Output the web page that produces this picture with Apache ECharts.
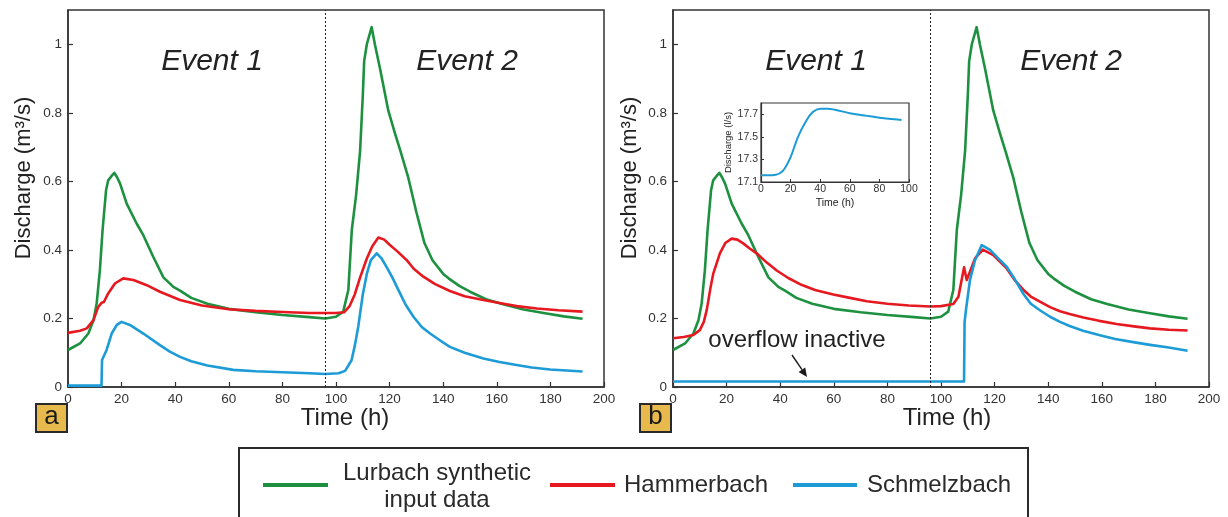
<!DOCTYPE html>
<html>
<head>
<meta charset="utf-8">
<script src="https://cdn.jsdelivr.net/npm/echarts@6/dist/echarts.min.js"></script>
<style>
  html, body { margin: 0; padding: 0; background: #fff; }
  #chart { width: 1228px; height: 517px; }
</style>
</head>
<body>
<div id="chart"></div>
<script>
// Time axis ticks (h) and discharge ticks (m³/s)
const timeTicks = [0, 20, 40, 60, 80, 100, 120, 140, 160, 180, 200];
const dischargeTicks = [0, 0.2, 0.4, 0.6, 0.8, 1];
const eventBoundary = 96;

// Lurbach synthetic input data (same in both panels)
const lurbachT = [0, 4.5, 7.6, 9.5, 10.7, 11.9, 12.9, 14.2, 15, 16.2, 17.3, 18.3, 19.4, 21.9, 25.6, 28.1, 31.8, 35.6, 39.3, 41.8, 46, 52, 60, 70, 80, 90, 96, 100, 102.7, 104.6, 105.9, 107.5, 109, 110, 110.5, 111.5, 113.3, 114.5, 116.4, 119.5, 122, 124, 127, 130, 133, 136, 140, 142, 146, 150, 156, 162, 170, 178, 185, 192];
const lurbachQ = [0.108, 0.127, 0.156, 0.195, 0.244, 0.341, 0.458, 0.574, 0.603, 0.615, 0.625, 0.612, 0.594, 0.535, 0.477, 0.443, 0.38, 0.32, 0.292, 0.281, 0.26, 0.243, 0.228, 0.218, 0.21, 0.204, 0.2, 0.205, 0.22, 0.283, 0.458, 0.56, 0.69, 0.85, 0.95, 1.0, 1.05, 1.0, 0.93, 0.807, 0.74, 0.69, 0.61, 0.51, 0.42, 0.37, 0.33, 0.317, 0.295, 0.278, 0.256, 0.242, 0.226, 0.215, 0.206, 0.199];

// Panel a: Hammerbach
const hammerAT = [0, 4.5, 7, 9.5, 11.3, 12.6, 13.4, 15, 17.5, 20.6, 24.4, 29.4, 34.3, 41.8, 50, 60, 70, 80, 90, 100, 103, 105, 107, 109, 111.5, 113.5, 115.8, 118, 120, 123, 126.4, 129, 132.6, 137, 142.5, 148, 155, 161, 167.4, 175, 183, 192];
const hammerAQ = [0.158, 0.164, 0.171, 0.195, 0.234, 0.246, 0.248, 0.273, 0.302, 0.317, 0.312, 0.297, 0.278, 0.254, 0.238, 0.227, 0.222, 0.219, 0.216, 0.216, 0.218, 0.235, 0.27, 0.32, 0.375, 0.41, 0.436, 0.43, 0.415, 0.395, 0.37, 0.345, 0.322, 0.3, 0.28, 0.265, 0.254, 0.245, 0.236, 0.229, 0.224, 0.22];

// Panel a: Schmelzbach
const schmelzAT = [0, 12.5, 12.7, 14.4, 16.3, 18.2, 20, 23.1, 28.1, 34.3, 38, 41.8, 46, 52, 61.7, 70, 80, 90, 96, 101, 103.4, 105.8, 107, 108.3, 110, 111.5, 113, 115.2, 117, 118.9, 121, 123.9, 126, 128.9, 132, 135.1, 139, 142.5, 148, 155, 161, 167.4, 173, 179.9, 186, 192];
const schmelzAQ = [0.004, 0.004, 0.079, 0.108, 0.156, 0.181, 0.19, 0.181, 0.156, 0.122, 0.103, 0.088, 0.075, 0.063, 0.05, 0.046, 0.043, 0.04, 0.038, 0.04, 0.047, 0.078, 0.12, 0.176, 0.27, 0.33, 0.37, 0.39, 0.375, 0.35, 0.32, 0.273, 0.24, 0.205, 0.175, 0.156, 0.135, 0.117, 0.1, 0.083, 0.073, 0.064, 0.057, 0.051, 0.048, 0.045];

// Panel b: Hammerbach
const hammerBT = [0, 4, 7.6, 10, 11.5, 12.6, 14, 15, 17.5, 19.5, 21.9, 24, 26.2, 28.5, 31.2, 35, 38.7, 43, 47.4, 53, 59.8, 66, 72.3, 80, 88, 96, 100, 104.6, 106.5, 107.7, 108.6, 109.6, 110.8, 112.7, 115.6, 119.5, 124.5, 127.5, 130.7, 133.5, 136.9, 140.7, 144.4, 148, 153.1, 159, 165.5, 172, 178, 185, 192];
const hammerBQ = [0.142, 0.146, 0.152, 0.166, 0.19, 0.225, 0.29, 0.33, 0.39, 0.42, 0.433, 0.43, 0.419, 0.405, 0.39, 0.363, 0.34, 0.318, 0.3, 0.283, 0.27, 0.26, 0.25, 0.243, 0.238, 0.235, 0.236, 0.242, 0.263, 0.312, 0.349, 0.312, 0.336, 0.375, 0.401, 0.385, 0.346, 0.312, 0.284, 0.264, 0.249, 0.233, 0.221, 0.213, 0.203, 0.193, 0.184, 0.177, 0.171, 0.167, 0.165];

// Panel b: Schmelzbach
const schmelzBT = [0, 108.6, 108.8, 109.3, 110.8, 112.7, 115.2, 118.3, 121, 124.5, 127.5, 130.7, 133.5, 136.9, 140.7, 144.4, 148, 153, 159.3, 165, 171.7, 178, 185, 192];
const schmelzBQ = [0.016, 0.016, 0.19, 0.224, 0.312, 0.37, 0.414, 0.4, 0.378, 0.351, 0.315, 0.272, 0.243, 0.224, 0.205, 0.19, 0.178, 0.164, 0.151, 0.14, 0.131, 0.123, 0.115, 0.106];

// Inset: Schmelzbach discharge in l/s during event 1
const insetT = [0, 5, 10, 13, 16, 20, 25, 30, 35, 40, 45, 50, 60, 70, 80, 90, 95];
const insetQ = [17.16, 17.16, 17.165, 17.18, 17.22, 17.32, 17.5, 17.63, 17.72, 17.75, 17.75, 17.74, 17.71, 17.69, 17.67, 17.655, 17.65];
const insetTimeTicks = [0, 20, 40, 60, 80, 100];
const insetQTicks = [17.1, 17.3, 17.5, 17.7];

const legendNames = ['Lurbach synthetic\ninput data', 'Hammerbach', 'Schmelzbach'];
const GREEN = '#1d9140', RED = '#e5191f', BLUE = '#1c9bd7';
const FONT = 'Liberation Sans, Arial, Helvetica, sans-serif';

const zip = (t, q) => t.map((v, i) => [v, q[i]]);

function mainX(grid) {
  return {
    type: 'value', gridIndex: grid, min: timeTicks[0], max: timeTicks[timeTicks.length - 1], interval: 20,
    axisLine: { show: true, onZero: false, lineStyle: { color: '#333', width: 1.5 } },
    axisTick: { show: true, inside: true, length: 5, lineStyle: { color: '#333', width: 1.2 } },
    axisLabel: { show: true, color: '#333', fontSize: 13.5, fontFamily: FONT, margin: 5 },
    splitLine: { show: false }
  };
}
function mainY(grid) {
  return {
    type: 'value', gridIndex: grid, min: 0, max: 1.1, interval: 0.2,
    axisLine: { show: true, onZero: false, lineStyle: { color: '#333', width: 1.5 } },
    axisTick: { show: true, inside: true, length: 5, lineStyle: { color: '#333', width: 1.2 } },
    axisLabel: {
      show: true, color: '#333', fontSize: 13.5, fontFamily: FONT, margin: 6, showMaxLabel: false,
      formatter: v => dischargeTicks.some(d => Math.abs(d - v) < 1e-6) ? String(+v.toFixed(1)) : ''
    },
    splitLine: { show: false }
  };
}
function line(name, data, color, xi, extra) {
  return Object.assign({
    name: name, type: 'line', xAxisIndex: xi, yAxisIndex: xi, data: data,
    showSymbol: false, symbol: 'none', smooth: false,
    lineStyle: { color: color, width: 2.6, join: 'round' }, itemStyle: { color: color },
    animation: false, z: 3
  }, extra || {});
}
const boundaryLine = {
  silent: true, symbol: 'none', label: { show: false },
  lineStyle: { color: '#222', type: [2, 2], width: 1 },
  data: [{ xAxis: eventBoundary }]
};

function text(x, y, str, size, opts) {
  return {
    type: 'text', x: x, y: y, rotation: (opts && opts.rotation) || 0, z: 10,
    style: Object.assign({
      text: str, fill: '#222', font: size + 'px ' + FONT,
      textAlign: 'center', textVerticalAlign: 'middle'
    }, (opts && opts.style) || {})
  };
}
function panelTag(x, letter) {
  return [
    { type: 'rect', shape: { x: x, y: 404, width: 31, height: 28 }, z: 10,
      style: { fill: '#e8b94c', stroke: '#2a2a2a', lineWidth: 2 } },
    text(x + 15.5, 417, letter, 26, { style: { fill: '#1a1a1a' } })
  ];
}

const chart = echarts.init(document.getElementById('chart'), null, { renderer: 'canvas' });
chart.setOption({
  backgroundColor: '#fff',
  animation: false,
  grid: [
    { left: 68, top: 10, width: 536, height: 377, show: true, borderColor: '#333', borderWidth: 1.5, backgroundColor: 'transparent' },
    { left: 673, top: 10, width: 536, height: 377, show: true, borderColor: '#333', borderWidth: 1.5, backgroundColor: 'transparent' },
    { left: 761, top: 103, width: 148, height: 79, show: true, borderColor: '#333', borderWidth: 1.2, backgroundColor: '#fff', z: 5 }
  ],
  xAxis: [
    mainX(0), mainX(1),
    {
      type: 'value', gridIndex: 2, min: insetTimeTicks[0], max: insetTimeTicks[insetTimeTicks.length - 1], interval: 20,
      name: 'Time (h)', nameLocation: 'middle', nameGap: 16,
      nameTextStyle: { fontSize: 10.5, fontFamily: FONT, color: '#222' },
      axisLine: { show: true, onZero: false, lineStyle: { color: '#333', width: 1.2 } },
      axisTick: { show: true, inside: true, length: 3, lineStyle: { color: '#333' } },
      axisLabel: { color: '#333', fontSize: 10.5, fontFamily: FONT, margin: 2 },
      splitLine: { show: false }, z: 6
    }
  ],
  yAxis: [
    mainY(0), mainY(1),
    {
      type: 'value', gridIndex: 2, min: insetQTicks[0], max: 17.8, interval: 0.2,
      name: 'Discharge (l/s)', nameLocation: 'middle', nameGap: 25,
      nameTextStyle: { fontSize: 9.5, fontFamily: FONT, color: '#222' },
      axisLine: { show: true, onZero: false, lineStyle: { color: '#333', width: 1.2 } },
      axisTick: { show: true, inside: true, length: 3, lineStyle: { color: '#333' } },
      axisLabel: {
        color: '#333', fontSize: 10.5, fontFamily: FONT, margin: 3, showMaxLabel: false,
        formatter: v => insetQTicks.some(d => Math.abs(d - v) < 1e-6) ? v.toFixed(1) : ''
      },
      splitLine: { show: false }, z: 6
    }
  ],
  series: [
    line(legendNames[0], zip(lurbachT, lurbachQ), GREEN, 0, { markLine: boundaryLine }),
    line(legendNames[1], zip(hammerAT, hammerAQ), RED, 0),
    line(legendNames[2], zip(schmelzAT, schmelzAQ), BLUE, 0),
    line(legendNames[0], zip(lurbachT, lurbachQ), GREEN, 1, { markLine: boundaryLine }),
    line(legendNames[1], zip(hammerBT, hammerBQ), RED, 1),
    line(legendNames[2], zip(schmelzBT, schmelzBQ), BLUE, 1),
    line('Schmelzbach (l/s)', zip(insetT, insetQ), BLUE, 2, { smooth: 0.4, z: 8, lineStyle: { color: BLUE, width: 2 } })
  ],
  graphic: [
    // axis titles
    text(24, 178, 'Discharge (m³/s)', 22, { rotation: Math.PI / 2 }),
    text(630, 178, 'Discharge (m³/s)', 22, { rotation: Math.PI / 2 }),
    text(345, 418, 'Time (h)', 24),
    text(947, 418, 'Time (h)', 24),
    // event labels
    text(212, 62, 'Event 1', 30, { style: { font: 'italic 30px ' + FONT } }),
    text(467, 62, 'Event 2', 30, { style: { font: 'italic 30px ' + FONT } }),
    text(816, 62, 'Event 1', 30, { style: { font: 'italic 30px ' + FONT } }),
    text(1071, 62, 'Event 2', 30, { style: { font: 'italic 30px ' + FONT } }),
    // overflow annotation
    text(797, 340, 'overflow inactive', 24),
    { type: 'line', z: 10, shape: { x1: 792, y1: 355, x2: 802, y2: 369.6 }, style: { stroke: '#1a1a1a', lineWidth: 1.4 } },
    { type: 'polygon', z: 10, shape: { points: [[807, 377], [798.6, 371.9], [805.2, 367.4]] }, style: { fill: '#1a1a1a' } },
    // panel tags
    ...panelTag(36, 'a'),
    ...panelTag(640, 'b'),
    // legend
    { type: 'rect', z: 10, shape: { x: 239, y: 448, width: 789, height: 90 }, style: { fill: '#fff', stroke: '#2a2a2a', lineWidth: 2 } },
    { type: 'line', z: 11, shape: { x1: 263, y1: 485, x2: 328, y2: 485 }, style: { stroke: GREEN, lineWidth: 4 } },
    text(437, 473, 'Lurbach synthetic', 24, { style: { fill: '#2a2a2a' } }),
    text(437, 500, 'input data', 24, { style: { fill: '#2a2a2a' } }),
    { type: 'line', z: 11, shape: { x1: 550, y1: 485, x2: 615, y2: 485 }, style: { stroke: RED, lineWidth: 4 } },
    text(624, 485, legendNames[1], 24, { style: { fill: '#2a2a2a', textAlign: 'left' } }),
    { type: 'line', z: 11, shape: { x1: 793, y1: 485, x2: 857, y2: 485 }, style: { stroke: BLUE, lineWidth: 4 } },
    text(867, 485, legendNames[2], 24, { style: { fill: '#2a2a2a', textAlign: 'left' } })
  ]
});
</script>
</body>
</html>
